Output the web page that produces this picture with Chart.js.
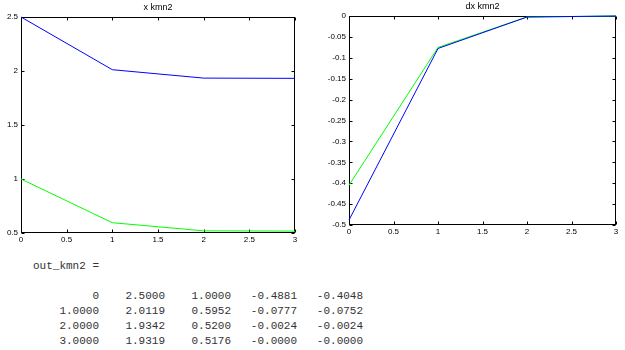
<!DOCTYPE html>
<html>
<head>
<meta charset="utf-8">
<script src="https://cdn.jsdelivr.net/npm/chart.js@4"></script>
<style>
  body { margin: 0; background: #fff; width: 625px; height: 350px; overflow: hidden; position: relative; }
  #left { position: absolute; left: 0; top: 0; }
  #right { position: absolute; left: 310px; top: 0; }
  #out { position: absolute; left: 0; top: 259px; margin: 0; font: 11px/15px "Liberation Mono", "Courier New", monospace; color: #333; }
</style>
</head>
<body>
<canvas id="left" width="310" height="250"></canvas>
<canvas id="right" width="315" height="250"></canvas>
<pre id="out"></pre>
<script>
// columns of out_kmn2
var t   = [0, 1, 2, 3];
var x1  = [2.5000, 2.0119, 1.9342, 1.9319];
var x2  = [1.0000, 0.5952, 0.5200, 0.5176];
var dx1 = [-0.4881, -0.0777, -0.0024, -0.0000];
var dx2 = [-0.4048, -0.0752, -0.0024, -0.0000];

// axis ticks as matlab drew them
var xTicks = [0, 0.5, 1, 1.5, 2, 2.5, 3];
var leftYTicks = [0.5, 1, 1.5, 2, 2.5];
var rightYTicks = [-0.5, -0.45, -0.4, -0.35, -0.3, -0.25, -0.2, -0.15, -0.1, -0.05, 0];

var leftTitle = 'x kmn2';
var rightTitle = 'dx kmn2';

function pts(xs, ys) {
  return xs.map(function (v, i) { return { x: v, y: ys[i] }; });
}

function tickLabel(v) {
  return String(+Number(v).toFixed(4));
}

// matlab style box: frame, inward ticks on all four sides, small title on top
// drawn before the lines so a line lying on the frame stays visible
var boxPlugin = {
  id: 'box',
  beforeDatasetsDraw: function (chart, args, opts) {
    var a = chart.chartArea, ctx = chart.ctx;
    var L = Math.round(a.left) + 0.5, R = Math.round(a.right) - 0.5;
    var T = Math.round(a.top) + 0.5, B = Math.round(a.bottom) - 0.5;
    ctx.save();
    ctx.strokeStyle = '#000';
    ctx.lineWidth = 1;
    ctx.strokeRect(L, T, R - L, B - T);
    ctx.beginPath();
    chart.scales.x.ticks.forEach(function (tk) {
      var px = Math.round(chart.scales.x.getPixelForValue(tk.value)) + 0.5;
      ctx.moveTo(px, B); ctx.lineTo(px, B - 3);
      ctx.moveTo(px, T); ctx.lineTo(px, T + 3);
    });
    chart.scales.y.ticks.forEach(function (tk) {
      var py = Math.round(chart.scales.y.getPixelForValue(tk.value)) + 0.5;
      ctx.moveTo(L, py); ctx.lineTo(L + 3, py);
      ctx.moveTo(R, py); ctx.lineTo(R - 3, py);
    });
    ctx.stroke();
    ctx.fillStyle = '#000';
    ctx.font = '9px "Liberation Sans", Arial, sans-serif';
    ctx.textAlign = 'center';
    ctx.textBaseline = 'middle';
    ctx.fillText(opts.title, (a.left + a.right) / 2, opts.titleY);
    ctx.restore();
  }
};

var tickFont = { family: '"Liberation Sans", Arial, sans-serif', size: 8 };

function makeChart(id, s1, s2, yTicks, title, titleY, pad, yWidth, xHeight) {
  return new Chart(document.getElementById(id), {
    type: 'line',
    data: {
      datasets: [
        { data: pts(t, s1), borderColor: '#0000ff', borderWidth: 1, pointRadius: 0, fill: false, tension: 0, clip: 1 },
        { data: pts(t, s2), borderColor: '#00ff00', borderWidth: 1, pointRadius: 0, fill: false, tension: 0, clip: 1 }
      ]
    },
    options: {
      responsive: false,
      animation: false,
      events: [],
      layout: { padding: pad },
      plugins: {
        legend: { display: false },
        tooltip: { enabled: false },
        box: { title: title, titleY: titleY }
      },
      scales: {
        x: {
          type: 'linear',
          min: xTicks[0],
          max: xTicks[xTicks.length - 1],
          afterBuildTicks: function (s) { s.ticks = xTicks.map(function (v) { return { value: v }; }); },
          afterFit: function (s) { s.height = xHeight; },
          grid: { display: false, drawTicks: false, tickLength: 0 },
          border: { display: false },
          ticks: { font: tickFont, color: '#000', padding: 2, maxRotation: 0, autoSkip: false, callback: tickLabel }
        },
        y: {
          min: yTicks[0],
          max: yTicks[yTicks.length - 1],
          afterBuildTicks: function (s) { s.ticks = yTicks.map(function (v) { return { value: v }; }); },
          afterFit: function (s) { s.width = yWidth; },
          grid: { display: false, drawTicks: false, tickLength: 0 },
          border: { display: false },
          ticks: { font: tickFont, color: '#000', padding: 3, autoSkip: false, callback: tickLabel }
        }
      }
    },
    plugins: [boxPlugin]
  });
}

makeChart('left', x1, x2, leftYTicks, leftTitle, 8, { left: 0, right: 15, top: 17, bottom: 0 }, 21, 17);
makeChart('right', dx1, dx2, rightYTicks, rightTitle, 7, { left: 0, right: 9, top: 16, bottom: 0 }, 39, 25);

// the printed matrix under the plots
function fmt(v) {
  if (Object.is(v, -0)) return '-0.0000';
  if (v === 0) return '0';
  return v.toFixed(4);
}
function pad(s, n) { while (s.length < n) s = ' ' + s; return s; }
var lines = ['     out_kmn2 =', ''];
t.forEach(function (v, i) {
  lines.push(pad(fmt(v), 15) + pad(fmt(x1[i]), 10) + pad(fmt(x2[i]), 10) + pad(fmt(dx1[i]), 10) + pad(fmt(dx2[i]), 10));
});
document.getElementById('out').textContent = lines.join('\n');
</script>
</body>
</html>
